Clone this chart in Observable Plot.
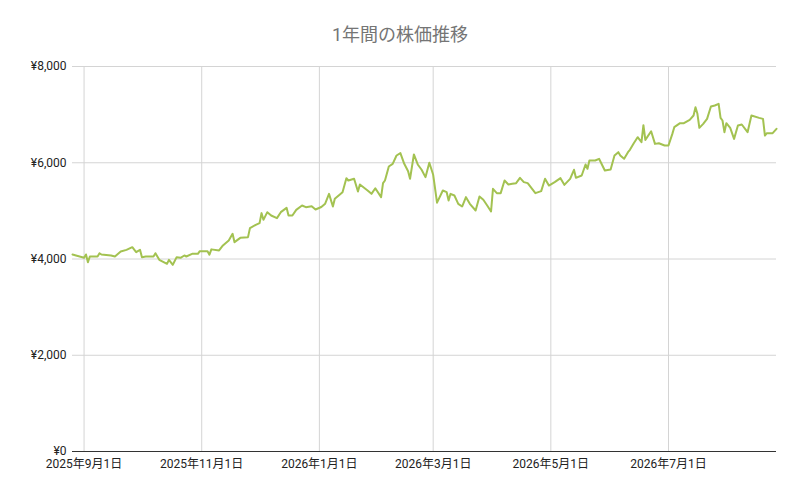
<!DOCTYPE html>
<html><head><meta charset="utf-8">
<script src="https://cdn.jsdelivr.net/npm/d3@7"></script>
<script src="https://cdn.jsdelivr.net/npm/@observablehq/plot@0.6"></script>
<style>
body{margin:0;background:#fff;font-family:Roboto,"Noto Sans CJK JP",sans-serif;}
#title{height:50px;line-height:70px;text-align:center;font-size:18px;color:#757575;}
</style></head><body>
<div id="title">1年間の株価推移</div>
<div id="chart"></div>
<script>
const dates = ["2025-08-26","2025-09-01","2025-09-02","2025-09-03","2025-09-04","2025-09-08","2025-09-09","2025-09-10","2025-09-15","2025-09-17","2025-09-20","2025-09-23","2025-09-26","2025-09-28","2025-09-30","2025-10-01","2025-10-03","2025-10-07","2025-10-08","2025-10-10","2025-10-14","2025-10-15","2025-10-17","2025-10-19","2025-10-21","2025-10-23","2025-10-24","2025-10-27","2025-10-30","2025-10-31","2025-11-04","2025-11-05","2025-11-06","2025-11-10","2025-11-12","2025-11-15","2025-11-17","2025-11-18","2025-11-21","2025-11-25","2025-11-26","2025-11-29","2025-12-01","2025-12-02","2025-12-03","2025-12-05","2025-12-07","2025-12-10","2025-12-12","2025-12-15","2025-12-16","2025-12-18","2025-12-20","2025-12-23","2025-12-25","2025-12-28","2025-12-30","2026-01-02","2026-01-04","2026-01-06","2026-01-08","2026-01-09","2026-01-13","2026-01-15","2026-01-16","2026-01-19","2026-01-21","2026-01-22","2026-01-26","2026-01-28","2026-01-30","2026-02-02","2026-02-03","2026-02-04","2026-02-06","2026-02-08","2026-02-10","2026-02-12","2026-02-14","2026-02-16","2026-02-17","2026-02-19","2026-02-21","2026-02-23","2026-02-25","2026-02-27","2026-03-01","2026-03-03","2026-03-06","2026-03-08","2026-03-09","2026-03-10","2026-03-12","2026-03-14","2026-03-16","2026-03-18","2026-03-20","2026-03-23","2026-03-25","2026-03-27","2026-03-29","2026-03-31","2026-04-01","2026-04-03","2026-04-05","2026-04-07","2026-04-09","2026-04-11","2026-04-13","2026-04-15","2026-04-17","2026-04-19","2026-04-23","2026-04-26","2026-04-28","2026-04-30","2026-05-03","2026-05-06","2026-05-08","2026-05-11","2026-05-13","2026-05-14","2026-05-17","2026-05-19","2026-05-20","2026-05-21","2026-05-24","2026-05-26","2026-05-29","2026-06-01","2026-06-03","2026-06-05","2026-06-06","2026-06-08","2026-06-10","2026-06-11","2026-06-13","2026-06-15","2026-06-17","2026-06-18","2026-06-19","2026-06-22","2026-06-24","2026-06-26","2026-06-29","2026-07-01","2026-07-03","2026-07-04","2026-07-07","2026-07-09","2026-07-12","2026-07-14","2026-07-15","2026-07-16","2026-07-17","2026-07-19","2026-07-21","2026-07-23","2026-07-25","2026-07-27","2026-07-28","2026-07-29","2026-07-30","2026-07-31","2026-08-02","2026-08-04","2026-08-06","2026-08-08","2026-08-11","2026-08-13","2026-08-17","2026-08-19","2026-08-20","2026-08-21","2026-08-24","2026-08-26"];
const prices = [4094,4025,4094,3934,4052,4052,4120,4094,4073,4052,4156,4190,4245,4141,4190,4038,4052,4052,4120,3983,3900,3983,3879,4038,4024,4073,4052,4107,4107,4162,4162,4090,4200,4177,4281,4384,4523,4350,4440,4454,4641,4710,4745,4953,4814,4973,4904,4849,4973,5063,4904,4904,5021,5111,5077,5097,5028,5080,5150,5354,5090,5250,5389,5680,5631,5666,5403,5548,5423,5354,5471,5285,5576,5631,5922,5978,6151,6200,5978,5825,5666,6172,5964,5854,5701,6000,5750,5170,5423,5389,5215,5354,5320,5146,5090,5285,5146,5008,5299,5230,5111,4987,5458,5368,5368,5631,5548,5562,5576,5687,5597,5576,5368,5410,5666,5527,5597,5680,5541,5666,5854,5687,5735,5964,5874,6047,6047,6082,5839,5860,6151,6220,6151,6082,6220,6269,6406,6531,6427,6780,6475,6655,6392,6406,6358,6358,6600,6739,6822,6822,6891,6982,7155,7017,6725,6808,6912,7169,7190,7225,6933,6878,6635,6822,6725,6496,6774,6795,6635,6982,6933,6912,6566,6614,6614,6704];
const yTicks = [0, 2000, 4000, 6000, 8000];
const yTickLabels = ["¥0", "¥2,000", "¥4,000", "¥6,000", "¥8,000"];
const xTickDates = ["2025-09-01","2025-11-01","2026-01-01","2026-03-01","2026-05-01","2026-07-01"];
const xTickLabels = ["2025年9月1日","2025年11月1日","2026年1月1日","2026年3月1日","2026年5月1日","2026年7月1日"];

const data = dates.map((d, i) => ({date: new Date(d), price: prices[i]}));
const xt = xTickDates.map(d => new Date(d));
const xLabel = new Map(xt.map((d, i) => [+d, xTickLabels[i]]));
const yLabel = new Map(yTicks.map((v, i) => [v, yTickLabels[i]]));

const chart = Plot.plot({
  width: 800, height: 444,
  marginLeft: 72, marginRight: 24, marginTop: 16, marginBottom: 43,
  style: {fontFamily: 'Roboto,"Noto Sans CJK JP",sans-serif', fontSize: "12px", color: "#222"},
  x: {type: "utc", domain: d3.extent(data, d => d.date)},
  y: {domain: [0, 8000]},
  marks: [
    Plot.ruleY(yTicks.filter(v => v > 0), {stroke: "#d4d4d4", strokeWidth: 1}),
    Plot.ruleX(xt, {stroke: "#d4d4d4", strokeWidth: 1}),
    Plot.ruleY([0], {stroke: "#333", strokeWidth: 1}),
    Plot.lineY(data, {x: "date", y: "price", stroke: "#a3c251", strokeWidth: 2, strokeLinejoin: "round"}),
    Plot.axisY({ticks: yTicks, tickFormat: v => yLabel.get(v), tickSize: 0, tickPadding: 6, label: null, fill: "#222"}),
    Plot.axisX({ticks: xt, tickFormat: d => xLabel.get(+d), tickSize: 0, tickPadding: 8, label: null, fill: "#222"})
  ]
});
document.getElementById("chart").appendChild(chart);
</script>
</body></html>
